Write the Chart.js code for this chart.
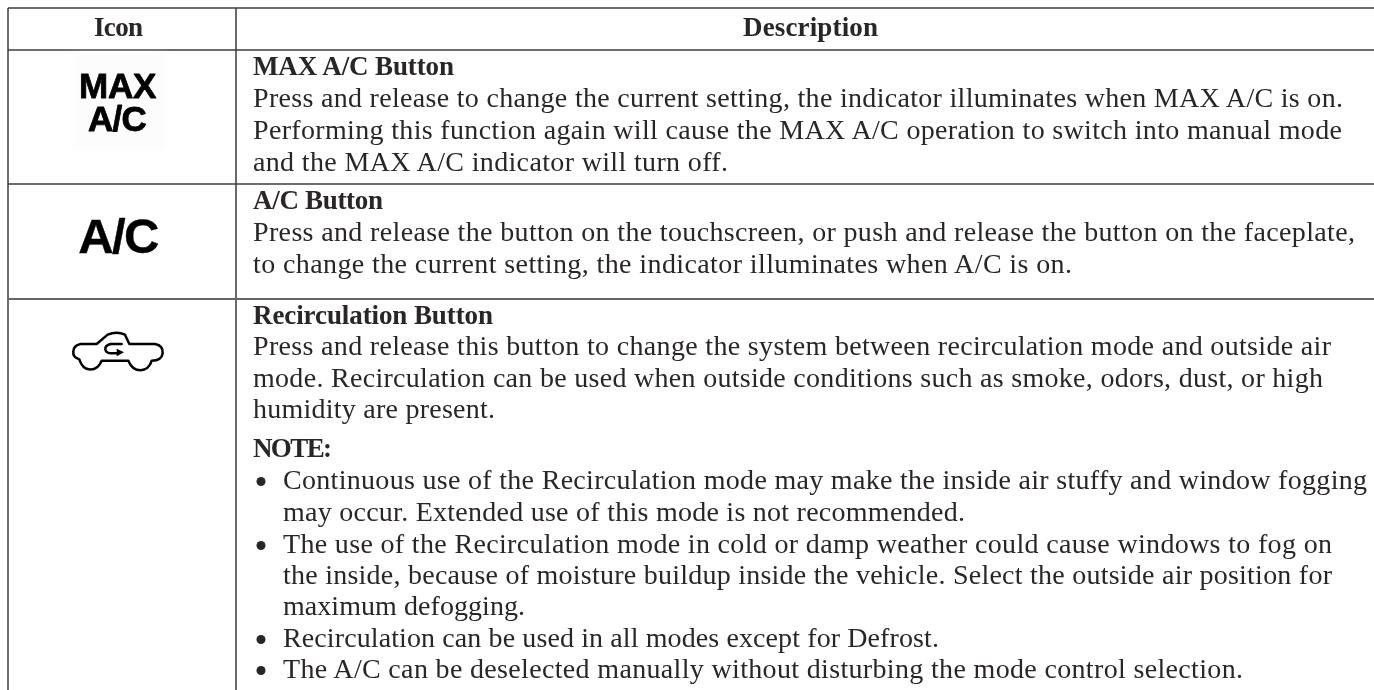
<!DOCTYPE html>
<html>
<head>
<meta charset="utf-8">
<title>Icon table</title>
<script src="https://cdn.jsdelivr.net/npm/chart.js@4/dist/chart.umd.min.js"></script>
<style>
  html, body { margin: 0; padding: 0; background: #fff; overflow: hidden; }
  canvas { display: block; }
</style>
</head>
<body>
<canvas id="iconTable" width="1374" height="690"></canvas>
<script>
// table text
var columnHeaders = ['Icon', 'Description'];
var rowTitles = ['MAX A/C Button', 'A/C Button', 'Recirculation Button'];
var maxLines = [
    'Press and release to change the current setting, the indicator illuminates when MAX A/C is on.',
    'Performing this function again will cause the MAX A/C operation to switch into manual mode',
    'and the MAX A/C indicator will turn off.'
];
var acLines = [
    'Press and release the button on the touchscreen, or push and release the button on the faceplate,',
    'to change the current setting, the indicator illuminates when A/C is on.'
];
var recircLines = [
    'Press and release this button to change the system between recirculation mode and outside air',
    'mode. Recirculation can be used when outside conditions such as smoke, odors, dust, or high',
    'humidity are present.'
];
var noteTitle = 'NOTE:';
var noteLines = [
    'Continuous use of the Recirculation mode may make the inside air stuffy and window fogging',
    'may occur. Extended use of this mode is not recommended.',
    'The use of the Recirculation mode in cold or damp weather could cause windows to fog on',
    'the inside, because of moisture buildup inside the vehicle. Select the outside air position for',
    'maximum defogging.',
    'Recirculation can be used in all modes except for Defrost.',
    'The A/C can be deselected manually without disturbing the mode control selection.'
];
var iconLabels = ['MAX', 'A/C'];

// table layout, in page pixels (the scales below run 1:1 with the page)
var ruleRows = [8, 50, 184, 299];
var ruleCols = [8, 236];
var PAGE_W = 1374, PAGE_H = 690;
var TEXT_X = 253, BULLET_TEXT_X = 283, BULLET_X = 261;
var noteBulletIdx = [0, 2, 5, 6];
var noteBaselines = [489, 521, 553, 584, 615, 647, 678];

var bodyFont = '28px "Liberation Serif"';
var boldFont = 'bold 27px "Liberation Serif"';
var inkColor = '#2a2627';

// x, baseline, right end of each line
function placed(lines, baselines, ends, x) {
    return lines.map(function(t, i) {
        return { text: t, x: x, y: baselines[i], right: ends[i], font: bodyFont };
    });
}
var textRuns = [
    { text: columnHeaders[0], x: 94, y: 36, right: 143, font: boldFont },
    { text: columnHeaders[1], x: 743, y: 36, right: 878, font: boldFont },
    { text: rowTitles[0], x: TEXT_X, y: 75, right: 454, font: boldFont },
    { text: rowTitles[1], x: TEXT_X, y: 209, right: 383, font: boldFont },
    { text: rowTitles[2], x: TEXT_X, y: 324, right: 493, font: boldFont },
    { text: noteTitle, x: TEXT_X, y: 457, right: 332, font: boldFont }
].concat(
    placed(maxLines, [107, 139, 171], [1343, 1342, 728], TEXT_X),
    placed(acLines, [241, 273], [1355, 1072], TEXT_X),
    placed(recircLines, [355, 387, 418], [1331, 1323, 495], TEXT_X),
    placed(noteLines, noteBaselines, [1367, 965, 1332, 1332, 525, 939, 1243], BULLET_TEXT_X)
);

// grid rules as plain line datasets
var ruleSets = [];
ruleRows.forEach(function(y, i) {
    ruleSets.push({
        data: [{ x: ruleCols[0], y: y }, { x: PAGE_W, y: y }],
        showLine: true, pointRadius: 0,
        borderColor: i === 3 ? '#666666' : '#3c3c3c',
        borderWidth: i === 3 ? 2 : 1.5
    });
});
ruleCols.forEach(function(x) {
    ruleSets.push({
        data: [{ x: x, y: ruleRows[0] }, { x: x, y: PAGE_H }],
        showLine: true, pointRadius: 0,
        borderColor: '#3c3c3c',
        borderWidth: 1.5
    });
});

// text and icons go on top of the rules
var tablePlugin = {
    id: 'tableText',
    afterDatasetsDraw: function(chart) {
        var ctx = chart.ctx;
        var sx = chart.scales.x, sy = chart.scales.y;
        function X(v) { return sx.getPixelForValue(v); }
        function Y(v) { return sy.getPixelForValue(v); }
        ctx.save();
        ctx.textBaseline = 'alphabetic';
        ctx.textAlign = 'left';
        ctx.fontKerning = 'normal';

        // body text, each line spaced out to the width it has in the source
        ctx.fillStyle = inkColor;
        ctx.filter = 'blur(0.3px)';
        textRuns.forEach(function(run) {
            ctx.font = run.font;
            ctx.letterSpacing = '0px';
            var w = ctx.measureText(run.text).width;
            var gap = (run.right - run.x - w) / (run.text.length - 1);
            ctx.letterSpacing = gap.toFixed(3) + 'px';
            ctx.fillText(run.text, X(run.x), Y(run.y));
        });
        ctx.letterSpacing = '0px';

        // bullets
        noteBulletIdx.forEach(function(i) {
            ctx.beginPath();
            ctx.arc(X(BULLET_X), Y(noteBaselines[i] - 7.5), 4.5, 0, Math.PI * 2);
            ctx.fill();
        });

        // faint scan box behind the MAX A/C icon
        ctx.filter = 'blur(3px)';
        ctx.fillStyle = '#fcfcfc';
        ctx.fillRect(X(72), Y(55), 94, 95);

        // MAX A/C icon
        ctx.filter = 'blur(0.7px)';
        ctx.fillStyle = '#000';
        ctx.strokeStyle = '#000';
        ctx.lineJoin = 'round';
        ctx.font = 'bold 35px "Liberation Sans"';
        ctx.textAlign = 'center';
        ctx.lineWidth = 0.8;
        ctx.letterSpacing = '-0.3px';
        ctx.fillText(iconLabels[0], X(117.5), Y(98));
        ctx.strokeText(iconLabels[0], X(117.5), Y(98));
        ctx.letterSpacing = '-0.8px';
        ctx.fillText(iconLabels[1], X(117), Y(131));
        ctx.strokeText(iconLabels[1], X(117), Y(131));

        // A/C icon
        ctx.filter = 'blur(0.5px)';
        ctx.font = 'bold 49px "Liberation Sans"';
        ctx.letterSpacing = '-1.6px';
        ctx.lineWidth = 0.4;
        ctx.fillText(iconLabels[1], X(118), Y(253));
        ctx.strokeText(iconLabels[1], X(118), Y(253));
        ctx.letterSpacing = '0px';

        function U(v) { return X(60 + v / 3); }
        function V(v) { return Y(320 + v / 3); }
        ctx.filter = 'blur(0.4px)';
        ctx.lineWidth = 2.5;
        ctx.lineCap = 'round';
        ctx.beginPath();
        ctx.moveTo(U(62), V(72));
        ctx.lineTo(U(110), V(72));
        ctx.lineTo(U(143), V(44));
        ctx.quadraticCurveTo(U(170), V(32), U(195), V(44));
        ctx.lineTo(U(208), V(72));
        ctx.lineTo(U(285), V(72));
        ctx.quadraticCurveTo(U(310), V(76), U(308), V(100));
        ctx.quadraticCurveTo(U(305), V(122), U(275), V(122));
        ctx.bezierCurveTo(U(265), V(160), U(220), V(160), U(205), V(122));
        ctx.lineTo(U(125), V(122));
        ctx.bezierCurveTo(U(110), V(158), U(70), V(158), U(58), V(118));
        ctx.quadraticCurveTo(U(38), V(112), U(40), V(95));
        ctx.quadraticCurveTo(U(40), V(76), U(62), V(72));
        ctx.stroke();
        ctx.beginPath();
        ctx.moveTo(U(185), V(72));
        ctx.lineTo(U(152), V(72));
        ctx.quadraticCurveTo(U(135), V(76), U(136), V(88));
        ctx.quadraticCurveTo(U(138), V(100), U(155), V(100));
        ctx.lineTo(U(175), V(100));
        ctx.stroke();
        ctx.beginPath();
        ctx.moveTo(U(170), V(86));
        ctx.lineTo(U(192), V(97));
        ctx.lineTo(U(170), V(109));
        ctx.closePath();
        ctx.fill();
        ctx.restore();
    }
};

new Chart(document.getElementById('iconTable').getContext('2d'), {
    type: 'scatter',
    data: { datasets: ruleSets },
    options: {
        responsive: false,
        animation: false,
        events: [],
        layout: { padding: 0 },
        plugins: { legend: { display: false }, tooltip: { enabled: false }, title: { display: false } },
        scales: {
            x: { type: 'linear', display: false, min: 0, max: PAGE_W },
            y: { type: 'linear', display: false, min: 0, max: PAGE_H, reverse: true }
        }
    },
    plugins: [tablePlugin]
});
</script>
</body>
</html>
